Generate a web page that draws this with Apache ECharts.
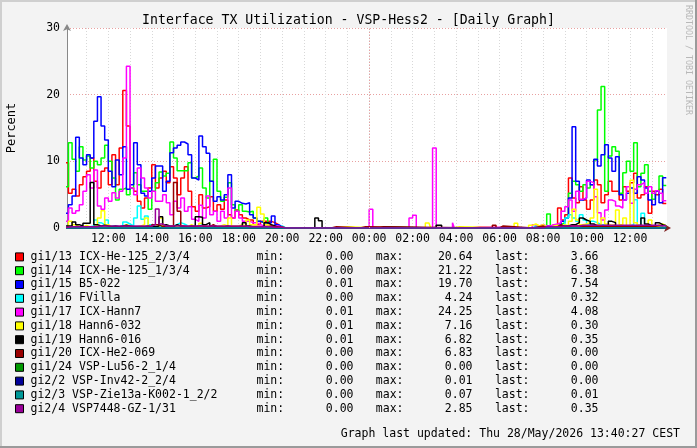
<!DOCTYPE html>
<html>
<head>
<meta charset="utf-8">
<script src="https://cdn.jsdelivr.net/npm/echarts@6/dist/echarts.min.js"></script>
<style>
  html, body { margin: 0; padding: 0; background: #f3f3f3; }
  #chart { width: 697px; height: 448px; }
</style>
</head>
<body>
<div id="chart"></div>
<script>
// interface names and colours, same order as the legend
var names = ['gi1/13 ICX-He-125_2/3/4', 'gi1/14 ICX-He-125_1/3/4', 'gi1/15 B5-022', 'gi1/16 FVilla',
  'gi1/17 ICX-Hann7', 'gi1/18 Hann6-032', 'gi1/19 Hann6-016', 'gi1/20 ICX-He2-069',
  'gi1/24 VSP-Lu56-2_1/4', 'gi2/2 VSP-Inv42-2_2/4', 'gi2/3 VSP-Zie13a-K002-1_2/2', 'gi2/4 VSP7448-GZ-1/31']
var colors = ['#ff0000', '#00ff00', '#0000ff', '#00ffff', '#ff00ff', '#ffff00', '#000000', '#990000',
  '#009900', '#000099', '#009999', '#990099']

// legend statistics
var statMin = [0.00, 0.00, 0.01, 0.00, 0.01, 0.01, 0.01, 0.00, 0.00, 0.00, 0.00, 0.00]
var statMax = [20.64, 21.22, 19.70, 4.24, 24.25, 7.16, 6.82, 6.83, 0.00, 0.01, 0.07, 2.85]
var statLast = [3.66, 6.38, 7.54, 0.32, 4.08, 0.30, 0.35, 0.00, 0.00, 0.00, 0.01, 0.35]

// x values are hours from midnight of the first day
var day1Start = 10      // 10:00, one value every 10 minutes
var day2Start = 32      // 08:00 next day, one value every 10 minutes
var stepHours = 1 / 6
var endHour = 37 + 40 / 60  // 13:40
var axisMin = 10.1
var axisMax = 37.7

// first day (10:00 .. 20:10)
var red1 = [9.8,5.2,5.8,4.8,6.5,7.7,8.5,10.5,7,6, 8.5,9,6.5,11,6.5,12,20.64,15.3,6,5.5, 4,3,4.5,6,9.5,6,7.5,8.5,6.8,9.2,
  7.5,5,7.5,9.2,5.5,3.2,2.5,5,3,3.2, 4.7,2.5,3.5,2.8,4.2,2,1.5,2.7,2,1.5, 1.2,1.2,0.5,0.5,1,1,1,0.8,0.5,0.1, 0,0]
var green1 = [6.2,12.8,10.3,8.5,12.2,10.2,10.8,9,10,9.5, 10.5,12.4,10,7.5,4.2,5.8,6,5,6,8.3, 6.5,5.5,5.5,2.8,5.5,6.8,8.4,7.8,8.2,12.9,
  10.5,8.6,8.6,8.6,9.8,7.5,7.8,9,6,4.5, 7,10.3,5.5,4,4.6,6.8,3.5,2.5,3.5,2.5, 2.4,2.5,1.5,1,0.8,1.5,0.3,0.2,0.1,0.1, 0,0]
var blue1 = [2.2,3.5,4.8,13.6,10.5,9.5,11,10.5,16,19.7, 15.3,13.2,8.5,6.2,10.2,8,12.2,5.8,6.5,12.8, 9.5,5.2,4.8,5.5,7.5,9.3,9.3,5.5,7,11.3,
  12,12.4,12.9,12.6,11,7.5,7.2,13.8,12.2,11.2, 7,4,4.7,4.2,5,8,3,4,3.7,3.6, 3.8,2,1.5,1,0.8,0.8,0.8,1.8,0.5,0.2, 0,0]
var cyan1 = [0,0,0.1,0.1,0.1,0.2,0.2,0.3,1.2,0.8, 0.5,1.2,0.3,0.3,0.2,0.2,0.9,0.6,0.3,1.5, 3.3,1.3,1.8,0.5,0.2,0.2,0.3,0.2,0.2,0.3,
  0.5,0.8,0.6,0.3,0.2,0.2,0.3,0.5,0.2,0.2, 0.2,0.2,0.1,0.1,0.2,0.2,0.1,0.1,0.3,0.2, 0.2,0.1,0.1,0.1,0.1,0.1,0.1,0.1,0.1,0.3, 0,0]
var magenta1 = [1,3,2.2,2.6,3.5,5.5,8,6,8.7,3.3, 2.8,4.5,4,5.3,4.5,5.5,10.5,24.25,6,5, 9,7.5,6,4.5,5.5,4,4,5,3.8,2,
  4,3,4.5,2.5,3.2,1.3,1,3.4,1.5,4.8, 2,2.5,1,2.5,1.5,6,1.5,2.5,1.5,1, 1,0.8,0.8,0.5,0.3,0.5,0.3,0.3,0.3,0.1, 0,0]
var yellow1 = [0,1,0.5,0.2,0.2,0.4,0.2,0.2,0.3,1.5, 2.6,0.5,0.2,0.2,0.2,0.2,0.5,0.3,0.2,0.2, 0.3,0.5,1.5,0.3,0.2,0.2,1.5,0.3,0.2,0.2,
  0.3,0.2,0.2,0.2,0.5,0.2,0.2,0.7,0.3,0.2, 0.3,0.2,0.3,0.5,0.3,1.5,0.3,0.3,0.5,0.3, 1.2,0.5,0.5,3.1,2.1,0.5,0.2,0.1,0.1,0.1, 0,0]
var black1 = [0.3,0.3,0.9,0.5,0.3,0.7,0.7,6.82,0.5,0.3, 0.4,0.3,0.2,0.3,0.2,0.3,0.4,0.3,0.2,0.2, 0.2,0.2,0.3,0.2,0.2,0.3,1.7,0.5,0.3,0.2,
  0.5,0.3,0.2,0.2,0.3,0.2,1.7,1.6,0.5,0.8, 0.3,0.2,0.2,0.2,0.3,0.2,0.2,0.2,0.3,0.8, 0.3,0.2,0.2,0.2,0.2,0.8,0.5,0.3,0.1,0.1, 0,0]
var darkred1 = [0,0,0,0,0.1,0.1,0.1,0.1,0.1,0.1, 0.1,0.1,0.1,0.1,0.1,0.1,0.2,0.2,0.1,0.1, 0.1,0.1,0.1,0.1,0.5,0.5,0.2,0.2,0.2,0.3,
  6.83,2.5,0.3,0.2,0.2,0.2,0.3,0.3,0.2,0.2, 0.5,0.2,0.2,0.2,0.2,0.2,0.2,0.2,0.2,0.2, 0.2,0.2,0.2,0.2,0.2,0.2,0.3,0.2,0.1,0.1, 0,0]
var dkgreen1 = [0]
var navy1 = [0]
var teal1 = [0.01]
var purple1 = [0.1,0.2,0.2,0.2,0.2,0.2,0.2,0.2,0.2,0.3, 0.3,0.3,0.3,0.3,0.3,0.3,0.3,0.3,0.3,0.3, 0.3,0.3,0.3,0.3,0.5,2.85,0.6,0.3,0.3,0.3,
  0.3,0.3,0.3,0.3,0.3,0.3,0.3,0.3,0.3,0.3, 0.3,0.3,0.3,0.3,0.3,0.3,0.3,0.3,0.3,0.3, 0.2,0.2,0.2,0.2,0.2,0.2,0.2,0.1,0.1,0.1, 0,0]

// night, sparse [hour, value] changes
var redNight = []
var greenNight = []
var blueNight = []
var cyanNight = [[31.5, 0.3], [31.6667, 0.2]]
var magentaNight = [[24.0, 2.8], [24.1667, 0], [25.8333, 1.5], [26.0, 1.9], [26.1667, 0], [26.9167, 12], [27.0833, 0],
  [27.8333, 0.8], [27.9167, 0], [28.6667, 0.2], [29.0833, 0], [31.5, 0.5], [31.6667, 0.3], [31.8333, 0.5]]
var yellowNight = [[22.1667, 0.2], [23.0, 0], [24.3333, 0.2], [24.6667, 0], [26.5833, 0.75], [26.75, 0.6], [26.8333, 0],
  [27.8333, 0.2], [28.1667, 0], [30.6667, 0.7], [30.8333, 0], [31.3333, 0.4], [31.5, 0.6], [31.6667, 0.3], [31.8333, 0.5]]
var blackNight = [[21.5, 1.5], [21.6667, 1.1], [21.8333, 0], [24.5, 0.2], [24.6667, 0], [27.0833, 0.4], [27.3333, 0]]
var darkredNight = [[22.25, 0.2], [22.5, 0], [23.5833, 0.2], [23.8333, 0], [29.6667, 0.4], [29.8333, 0], [30.0, 0.3], [30.1667, 0], [31.5, 0.3]]
var dkgreenNight = []
var navyNight = []
var tealNight = []
var purpleNight = []

// second day (08:00 .. 13:30)
var red2 = [0.3,0.2,0.5,0.5,3,1.2,2,7.5,4.5,3.8, 6.2,4.2,2.8,4.2,7.2,6.5,3.8,5,7,5.5, 5.5,4.2,6.2,5.5,6.8,8.2,4.5,5,6.2,2.2, 5.5,5,5.8,3.66]
var green2 = [0.2,2.1,0.3,0.3,0.5,0.8,1.5,5.2,7,6.5, 5.5,6.5,6,6.5,10.2,17.7,21.22,5.5,10.8,12.2, 11.5,5.2,8.3,10,8.5,12.8,6.2,8.2,9.5,5.5, 4.3,5.5,7.8,6.38]
var blue2 = [0.3,0.3,0.3,0.3,0.5,1,1.5,4.5,15.2,7, 4.2,4.5,7.2,6.5,10.3,9.3,11,12.5,10.5,8.5, 10.7,5,4.2,5.2,6,5.2,7.7,7.2,6,4.2, 3.5,5.5,3.8,7.54]
var cyan2 = [0.1,0.1,0.1,0.2,0.2,0.5,1.5,2,1.5,1, 2,1.2,0.6,1,0.8,0.5,0.5,0.4,0.3,0.3, 0.3,0.3,0.3,0.3,0.5,4.24,0.4,2.2,0.3,0.3, 0.3,0.3,0.3,0.32]
var magenta2 = [0.3,0.3,0.5,0.6,0.8,2.5,3.2,4.2,2.5,5.5, 4.3,4.5,7,6.8,4.7,2.3,1.2,2.7,4.2,4, 3.3,3,4.2,6.2,3.7,5.8,6.5,6.8,5.2,6.2, 5.2,5.6,5.2,4.08]
var yellow2 = [0.2,0.1,0.3,0.4,0.2,0.5,0.3,1,2.8,1.2, 0.5,0.6,0.8,1.5,5.8,0.5,1.5,0.6,0.4,0.5, 2.7,0.5,1.5,0.3,7.16,0.8,0.4,0.3,0.5,1.2, 0.3,0.2,0.6,0.3]
var black2 = [0.2,0.2,0.2,0.2,0.3,0.3,0.3,0.5,0.5,0.8, 1.5,1.2,1,0.6,0.3,0.3,0.3,0.3,1,0.8, 0.3,0.3,0.3,0.3,0.3,0.3,0.3,1.5,0.6,0.3, 0.3,0.8,0.5,0.35]
var darkred2 = [0.1,0.2,0.2,0.2,0.5,0.2,0.2,0.3,0.3,0.3, 0.2,0.2,0.2,0.2,0.2,0.2,0.2,0.2,0.2,0.2, 0.2,0.2,0.2,0.2,0.2,0.2,0.2,0.2,0.2,0.2, 0.2,0.1,0.1,0]
var dkgreen2 = [0]
var navy2 = [0]
var teal2 = [0.01]
var purple2 = [0.2,0.2,0.2,0.2,0.2,0.3,0.3,0.3,0.3,0.3, 0.4,0.4,0.4,0.4,0.4,0.4,0.4,0.4,0.4,0.4, 0.4,0.4,0.4,0.4,0.4,0.4,0.4,0.4,0.4,0.4, 0.4,0.4,0.35,0.35]

var day1 = [red1, green1, blue1, cyan1, magenta1, yellow1, black1, darkred1, dkgreen1, navy1, teal1, purple1]
var night = [redNight, greenNight, blueNight, cyanNight, magentaNight, yellowNight, blackNight, darkredNight, dkgreenNight, navyNight, tealNight, purpleNight]
var day2 = [red2, green2, blue2, cyan2, magenta2, yellow2, black2, darkred2, dkgreen2, navy2, teal2, purple2]

function buildData(k) {
  var pts = []
  day1[k].forEach(function (v, i) { pts.push([day1Start + i * stepHours, v]) })
  night[k].forEach(function (p) { pts.push([p[0], p[1]]) })
  day2[k].forEach(function (v, i) { pts.push([day2Start + i * stepHours, v]) })
  pts.push([endHour, day2[k][day2[k].length - 1]])
  return pts
}

function pad(n) { return (n < 10 ? '0' : '') + n }
var mono = 'DejaVu Sans Mono'

var series = names.map(function (name, k) {
  var s = {
    name: name,
    type: 'line',
    step: 'end',
    showSymbol: false,
    animation: false,
    data: buildData(k),
    color: colors[k],
    lineStyle: { width: 1.5, color: colors[k] }
  }
  if (k === 0) {
    // midnight marker line
    s.markLine = {
      silent: true,
      symbol: 'none',
      label: { show: false },
      lineStyle: { color: '#e8a0a0', type: [1, 2], width: 1 },
      data: [{ xAxis: 24 }]
    }
  }
  return s
})

var chart = echarts.init(document.getElementById('chart'))
var option = {
  backgroundColor: '#f3f3f3',
  title: {
    text: 'Interface TX Utilization - VSP-Hess2 - [Daily Graph]',
    left: 'center',
    top: 9,
    textStyle: { fontFamily: mono, fontSize: 13.2, fontWeight: 'normal', color: '#000' }
  },
  grid: { left: 67, top: 28, width: 600, height: 200, outerBoundsMode: 'none', containLabel: false },
  xAxis: {
    type: 'value',
    min: axisMin,
    max: axisMax,
    splitNumber: 28,
    minInterval: 1,
    maxInterval: 1,
    axisLine: { show: true, lineStyle: { color: '#7f2020', width: 1 }, symbol: ['none', 'arrow'], symbolSize: [6, 7], symbolOffset: [0, 4] },
    axisTick: { show: false },
    axisLabel: {
      margin: 5,
      fontFamily: mono,
      fontSize: 11.5,
      color: '#000',
      formatter: function (v) {
        var r = Math.round(v)
        if (Math.abs(v - r) > 1e-6 || r % 2 !== 0) return ''
        return pad(r % 24) + ':00'
      }
    },
    splitLine: { show: true, showMinLine: false, showMaxLine: false, lineStyle: { color: '#d8d8d8', type: [1, 2], width: 1 } }
  },
  yAxis: {
    type: 'value',
    min: 0,
    max: 30,
    interval: 10,
    name: 'Percent',
    nameLocation: 'middle',
    nameRotate: 90,
    nameGap: 49,
    nameTextStyle: { fontFamily: mono, fontSize: 12, color: '#000' },
    axisLine: { show: true, lineStyle: { color: '#888', width: 1 }, symbol: ['none', 'arrow'], symbolSize: [6, 7], symbolOffset: [0, 4] },
    axisTick: { show: false },
    axisLabel: { margin: 7, fontFamily: mono, fontSize: 11.5, color: '#000' },
    splitLine: { show: true, lineStyle: { color: '#e8a0a0', type: [1, 2], width: 1 } }
  },
  legend: {
    orient: 'vertical',
    left: 15,
    top: 250,
    padding: 0,
    itemWidth: 8,
    itemHeight: 8,
    itemGap: 0,
    icon: 'rect',
    selectedMode: false,
    itemStyle: { borderColor: '#000', borderWidth: 1 },
    data: names,
    formatter: function (name) {
      var k = names.indexOf(name)
      return '{n|' + name + '}{k|min:}{v|' + statMin[k].toFixed(2) + '}{m|max:}{v|' + statMax[k].toFixed(2) +
        '}{t|last:}{v|' + statLast[k].toFixed(2) + '}'
    },
    textStyle: {
      fontFamily: mono,
      fontSize: 11.5,
      color: '#000',
      lineHeight: 13.8,
      padding: [0, 0, 0, 2],
      rich: {
        n: { width: 226, fontFamily: mono, fontSize: 11.5, lineHeight: 13.8 },
        k: { width: 28, fontFamily: mono, fontSize: 11.5, lineHeight: 13.8 },
        v: { width: 69, align: 'right', fontFamily: mono, fontSize: 11.5, lineHeight: 13.8 },
        m: { width: 50, align: 'right', fontFamily: mono, fontSize: 11.5, lineHeight: 13.8 },
        t: { width: 57, align: 'right', fontFamily: mono, fontSize: 11.5, lineHeight: 13.8 }
      }
    }
  },
  graphic: [
    { type: 'rect', shape: { x: 67, y: 28, width: 600, height: 200 }, style: { fill: '#ffffff' }, z: -10, silent: true },
    { type: 'line', shape: { x1: 0, y1: 1, x2: 697, y2: 1 }, style: { stroke: '#cfcfcf', lineWidth: 2 }, silent: true },
    { type: 'line', shape: { x1: 1, y1: 0, x2: 1, y2: 448 }, style: { stroke: '#cfcfcf', lineWidth: 2 }, silent: true },
    { type: 'line', shape: { x1: 0, y1: 447, x2: 697, y2: 447 }, style: { stroke: '#9a9a9a', lineWidth: 2 }, silent: true },
    { type: 'line', shape: { x1: 696, y1: 0, x2: 696, y2: 448 }, style: { stroke: '#9a9a9a', lineWidth: 2 }, silent: true },
    {
      type: 'text', x: 692, y: 5, rotation: -Math.PI / 2, silent: true,
      style: { text: 'RRDTOOL / TOBI OETIKER', fill: '#b8b8b8', font: '8.3px "DejaVu Sans Mono"', textAlign: 'left', textVerticalAlign: 'top' }
    },
    {
      type: 'text', right: 17, top: 428, silent: true,
      style: { text: 'Graph last updated: Thu 28/May/2026 13:40:27 CEST', fill: '#000', font: '11.5px "DejaVu Sans Mono"' }
    }
  ],
  series: series
}
chart.setOption(option)
</script>
</body>
</html>
